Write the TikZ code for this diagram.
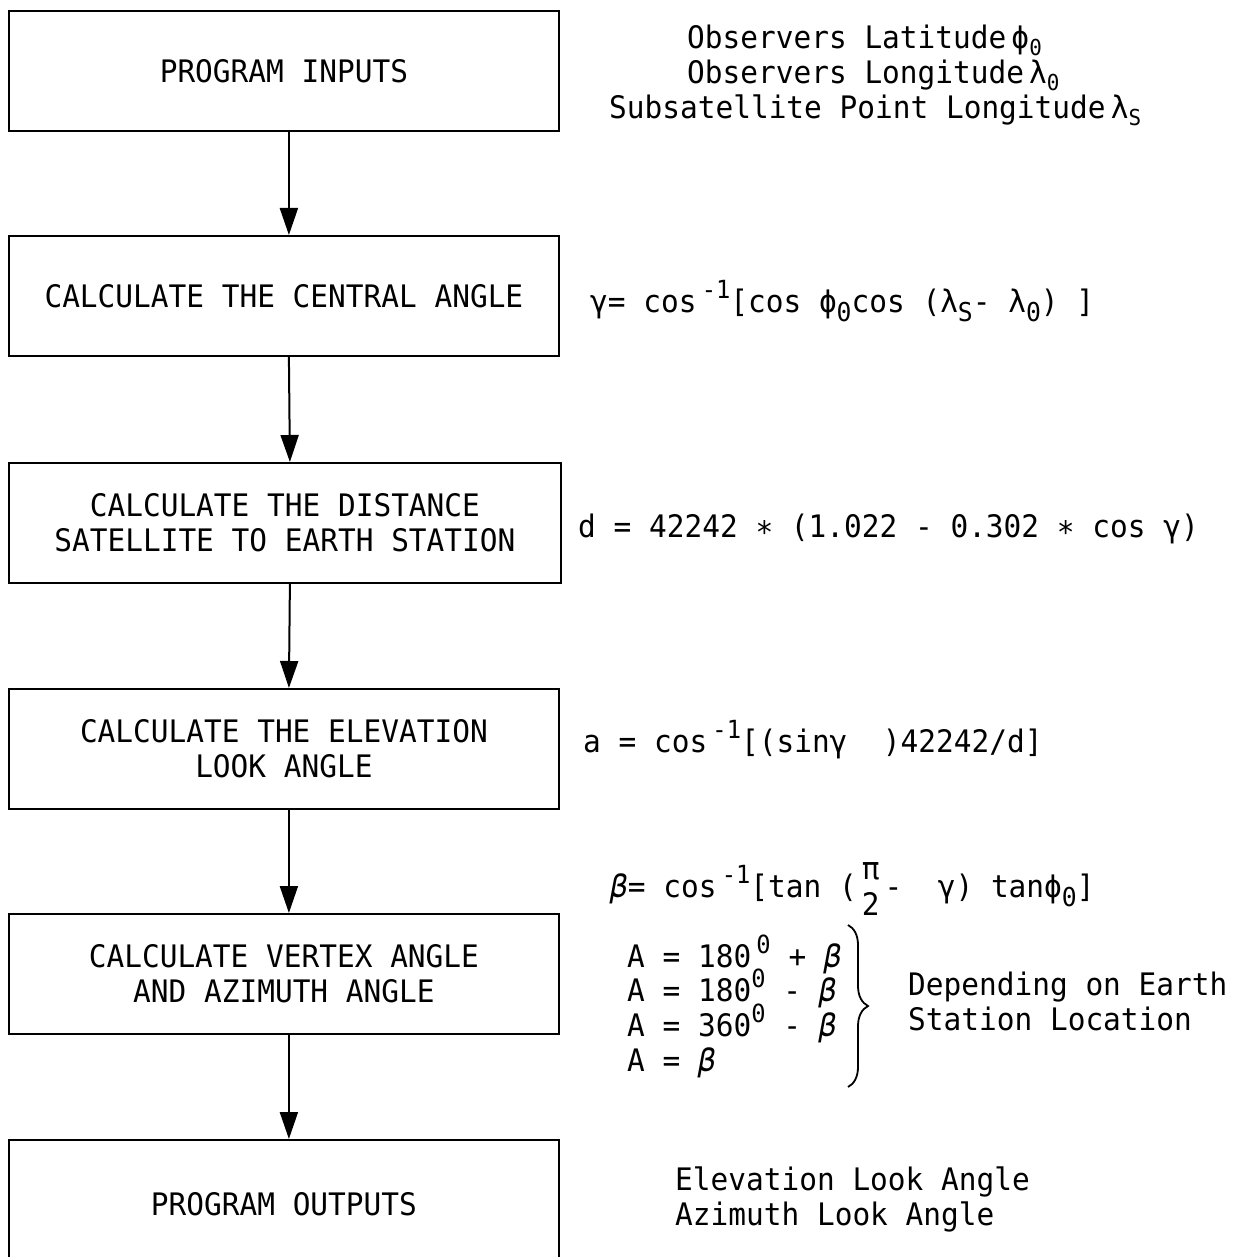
\documentclass[tikz,border=0pt]{standalone}
\usepackage{fontspec}
\setmainfont[FakeStretch=0.95]{DejaVu Sans Mono}
\usetikzlibrary{arrows.meta,decorations.pathreplacing}
\newcommand\lo[1]{\raisebox{-0.32em}{\fontsize{26}{26}\selectfont #1}}
\newcommand\los[1]{\raisebox{-0.2em}{\fontsize{22}{22}\selectfont #1}}
\newcommand\hi[1]{\raisebox{0.42em}{\fontsize{25}{25}\selectfont #1}}
\newcommand\mystar{\raisebox{-0.22em}{*}}
\newcommand\pihalf{\makebox[0.9em]{\raisebox{0.55em}{π}}\hspace{-0.9em}\makebox[0.9em]{\raisebox{-0.6em}{2}}}
\begin{document}
\begin{tikzpicture}[x=1pt,y=-1pt,
  every node/.style={font=\fontsize{31}{35}\selectfont},
  box/.style={draw,line width=1.8pt,minimum width=550pt,minimum height=120pt,anchor=north west,align=center,inner sep=0pt},
  txt/.style={anchor=base west,inner sep=0pt},
  arr/.style={line width=2pt,-{Triangle[width=18pt,length=27pt]}}]
\useasboundingbox (0,0) rectangle (1248,1257);
\clip (0,0) rectangle (1248,1257);
\node[box] (b1) at (8,10) {PROGRAM INPUTS};
\node[box] (b2) at (8,235) {CALCULATE THE CENTRAL ANGLE};
\node[box,minimum width=552pt] (b3) at (8,462) {CALCULATE THE DISTANCE\\SATELLITE TO EARTH STATION};
\node[box] (b4) at (8,688) {CALCULATE THE ELEVATION\\LOOK ANGLE};
\node[box] (b5) at (8,913) {CALCULATE VERTEX ANGLE\\AND AZIMUTH ANGLE};
\node[box,minimum height=128pt] (b6) at (8,1139) {PROGRAM OUTPUTS};
\foreach \a/\b in {b1/b2,b2/b3,b3/b4,b4/b5,b5/b6}
  \draw[arr] ([xshift=5pt]\a.south) -- ([xshift=5pt]\b.north);
\node[txt] (i1) at (687,49) {Observers Latitude\,ϕ\los{0}};
\node[txt] (i2) at (687,84) {Observers Longitude\,λ\los{0}};
\node[txt] (i3) at (609,119) {Subsatellite Point Longitude\,λ\los{S}};
\node[txt] (f2) at (590,312) {γ=\ cos\,\hi{-1}[cos ϕ\lo{0}cos (λ\lo{S}- λ\lo{0}) ]};
\node[txt] (f3) at (578,537) {d = 42242 \mystar{} (1.022 - 0.302 \mystar{} cos γ)};
\node[txt] (f4) at (583,752) {a = cos\,\hi{-1}[(sinγ\ \ )42242/d]};
\node[txt] (f5) at (610,897) {\textit{β}= cos\,\hi{-1}[tan (\pihalf- \ γ) tanϕ\lo{0}]};
\node[txt] (a1) at (627,967) {A = 180\,\hi{0} + \textit{β}};
\node[txt] (a2) at (627,1001) {A = 180\hi{0} - \textit{β}};
\node[txt] (a3) at (627,1036) {A = 360\hi{0} - \textit{β}};
\node[txt] (a4) at (627,1071) {A = \textit{β}};
\coordinate (bt) at (848,925);
\coordinate (bb) at (848,1087);
\draw[line width=1.8pt,decorate,decoration={brace,amplitude=20pt}] (bt) -- (bb);
\node[txt] (dep1) at (908,995) {Depending on Earth};
\node[txt] (dep2) at (908,1030) {Station Location};
\node[txt] (o1) at (675,1190) {Elevation Look Angle};
\node[txt] (o2) at (675,1225) {Azimuth Look Angle};
\end{tikzpicture}
\end{document}
